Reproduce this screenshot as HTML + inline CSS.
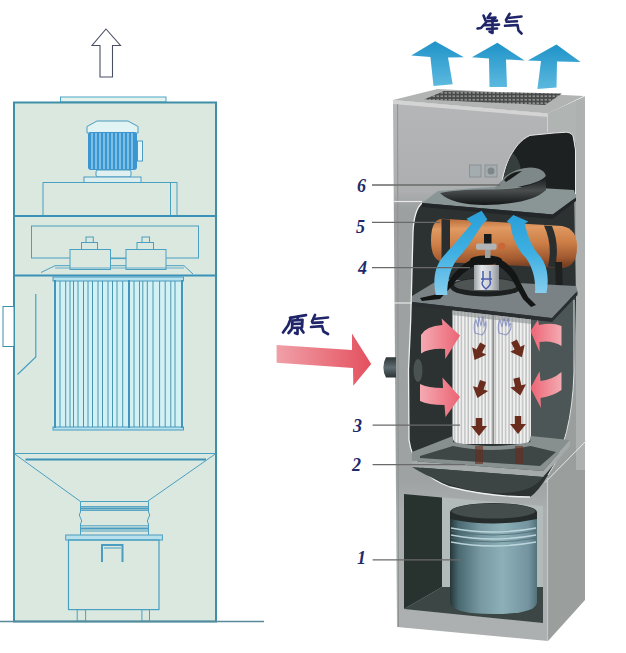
<!DOCTYPE html>
<html><head><meta charset="utf-8">
<style>
html,body{margin:0;padding:0;background:#fff;}
body{width:626px;height:653px;overflow:hidden;}
svg{display:block;}
.lb{font-family:"Liberation Serif",serif;font-style:italic;font-weight:bold;fill:#1f2a6b;}
</style></head><body>
<svg width="626" height="653" viewBox="0 0 626 653">
<defs>
  <linearGradient id="gBlueUp" x1="0" y1="0" x2="0" y2="1">
    <stop offset="0" stop-color="#1f93c8"/><stop offset="1" stop-color="#5cb9df"/>
  </linearGradient>
  <linearGradient id="gRed" x1="0" y1="0" x2="1" y2="0">
    <stop offset="0" stop-color="#f0a0a8"/><stop offset="1" stop-color="#e4505e"/>
  </linearGradient>
  <linearGradient id="gFront" x1="0" y1="0" x2="0" y2="1">
    <stop offset="0" stop-color="#b4b6b7"/><stop offset="0.17" stop-color="#acaeb0"/><stop offset="0.2" stop-color="#9ca0a0"/><stop offset="0.7" stop-color="#9ea2a2"/><stop offset="0.76" stop-color="#aaaeae"/><stop offset="1" stop-color="#acb0b0"/>
  </linearGradient>
</defs>
<rect width="626" height="653" fill="#fff"/>
<!-- ============ LEFT DRAWING ============ -->
<g id="left">
  <!-- up arrow -->
  <path d="M106,29 L120.5,45.5 L112.5,45.5 L112.5,77 L100,77 L100,45.5 L92,45.5 Z" fill="#fff" stroke="#4a4f66" stroke-width="1.1"/>
  <!-- top plate -->
  <rect x="60.5" y="97" width="105.5" height="5" fill="#e6f2ee" stroke="#4aa6c8" stroke-width="1"/>
  <!-- main box -->
  <rect x="14" y="102.5" width="202" height="519" fill="#dae8df" stroke="#3f8fa8" stroke-width="2"/>
  <!-- motor -->
  <path d="M97,121 L128,121 L138,126.5 L138,133 L87,133 L87,126.5 Z" fill="#e2f3f4" stroke="#4a9cc0" stroke-width="1"/>
  <rect x="88" y="132" width="49" height="38" rx="3" fill="#3b95d0"/>
  <g stroke="#a8dcf4" stroke-width="1.2">
    <line x1="92" y1="133" x2="92" y2="169"/><line x1="96" y1="133" x2="96" y2="169"/>
    <line x1="100" y1="133" x2="100" y2="169"/><line x1="104" y1="133" x2="104" y2="169"/>
    <line x1="108" y1="133" x2="108" y2="169"/><line x1="112" y1="133" x2="112" y2="169"/>
    <line x1="116" y1="133" x2="116" y2="169"/><line x1="120" y1="133" x2="120" y2="169"/>
    <line x1="124" y1="133" x2="124" y2="169"/><line x1="128" y1="133" x2="128" y2="169"/>
    <line x1="132" y1="133" x2="132" y2="169"/>
  </g>
  <rect x="137.5" y="141" width="5" height="20" fill="#e6f4f4" stroke="#4a9cc0" stroke-width="1"/>
  <rect x="96" y="170" width="35" height="7" rx="2" fill="#e0f0f0" stroke="#4a9cc0" stroke-width="1"/>
  <rect x="84" y="177" width="57" height="5.5" fill="#dcefee" stroke="#4a9cc0" stroke-width="1"/>
  <!-- fan box -->
  <rect x="43" y="182.5" width="134" height="33" fill="none" stroke="#4aa0c2" stroke-width="1"/>
  <line x1="170.5" y1="182.5" x2="170.5" y2="215" stroke="#4aa0c2" stroke-width="1"/>
  <line x1="14" y1="216" x2="216" y2="216" stroke="#3a92b8" stroke-width="2"/>
  <!-- inner rect -->
  <rect x="31.5" y="226" width="167" height="32" fill="none" stroke="#4aa0c2" stroke-width="1"/>
  <!-- blower boxes -->
  <rect x="70" y="249.5" width="40.5" height="20" fill="#dae8df" stroke="#4aa0c2" stroke-width="1"/>
  <rect x="126" y="249.5" width="40" height="20" fill="#dae8df" stroke="#4aa0c2" stroke-width="1"/>
  <rect x="81.5" y="242.5" width="16" height="7" fill="#dae8df" stroke="#4aa0c2" stroke-width="1"/>
  <rect x="86" y="237" width="7.3" height="5.5" fill="#dae8df" stroke="#4aa0c2" stroke-width="1"/>
  <rect x="137" y="242.5" width="16.5" height="7" fill="#dae8df" stroke="#4aa0c2" stroke-width="1"/>
  <rect x="142" y="237" width="7.5" height="5.5" fill="#dae8df" stroke="#4aa0c2" stroke-width="1"/>
  <line x1="110.5" y1="258.6" x2="126" y2="258.6" stroke="#4aa0c2" stroke-width="1"/>
  <line x1="110.5" y1="265.7" x2="126" y2="265.7" stroke="#4aa0c2" stroke-width="1"/>
  <path d="M41,272.5 L55,265.7 L70,265.7 M166,265.7 L184,265.7 L193,274" fill="none" stroke="#4aa0c2" stroke-width="1"/>
  <line x1="55" y1="268" x2="184" y2="268" stroke="#4aa0c2" stroke-width="0.8"/>
  <line x1="14" y1="275.5" x2="216" y2="275.5" stroke="#3a92b8" stroke-width="2"/>
  <!-- L filter -->
  <rect x="53.5" y="277" width="130" height="152.5" fill="#d2f1f5"/>
  <rect x="53" y="277" width="130.5" height="4" fill="#b6e2ee" stroke="#4a9cc0" stroke-width="1"/>
  <rect x="53" y="427" width="130.5" height="3" fill="#b6e2ee" stroke="#4a9cc0" stroke-width="1"/>
  <g stroke="#4a96b0" stroke-width="1">
    <line x1="60" y1="281" x2="60" y2="427"/><line x1="65.7" y1="281" x2="65.7" y2="427"/>
    <line x1="70" y1="281" x2="70" y2="427"/><line x1="73.5" y1="281" x2="73.5" y2="427"/>
    <line x1="78" y1="281" x2="78" y2="427"/><line x1="83.5" y1="281" x2="83.5" y2="427"/>
    <line x1="88" y1="281" x2="88" y2="427"/><line x1="92.5" y1="281" x2="92.5" y2="427"/>
    <line x1="98" y1="281" x2="98" y2="427"/><line x1="102.5" y1="281" x2="102.5" y2="427"/>
    <line x1="108" y1="281" x2="108" y2="427"/><line x1="112.5" y1="281" x2="112.5" y2="427"/>
    <line x1="117" y1="281" x2="117" y2="427"/><line x1="122.7" y1="281" x2="122.7" y2="427"/>
    <line x1="134" y1="281" x2="134" y2="427"/><line x1="139.5" y1="281" x2="139.5" y2="427"/>
    <line x1="142.8" y1="281" x2="142.8" y2="427"/><line x1="147.3" y1="281" x2="147.3" y2="427"/>
    <line x1="153" y1="281" x2="153" y2="427"/><line x1="159.6" y1="281" x2="159.6" y2="427"/>
    <line x1="165.2" y1="281" x2="165.2" y2="427"/><line x1="170.8" y1="281" x2="170.8" y2="427"/>
    <line x1="175" y1="281" x2="175" y2="427"/>
  </g>
  <g stroke="#4296bc" stroke-width="2">
    <line x1="55" y1="280" x2="55" y2="428"/><line x1="129" y1="280" x2="129" y2="428"/><line x1="182" y1="280" x2="182" y2="428"/>
  </g>
  <!-- side inlet -->
  <rect x="3" y="306.5" width="11" height="40" fill="#fff" stroke="#3f8fa8" stroke-width="1"/>
  <path d="M35.8,294 L35.8,357 L17.5,374.5" fill="none" stroke="#4aa0c2" stroke-width="1.2"/>
  <!-- hopper -->
  <line x1="14" y1="453.5" x2="216" y2="453.5" stroke="#4aa0c2" stroke-width="1.2"/>
  <line x1="25.5" y1="459.5" x2="206" y2="459.5" stroke="#3a92b8" stroke-width="2"/>
  <path d="M14,453.5 L80.5,501.5 M216,453.5 L148,501" fill="none" stroke="#4aa0c2" stroke-width="1"/>
  <!-- flex connector -->
  <rect x="80.5" y="501.5" width="68" height="34" fill="#dae8df" stroke="none"/>
  <g fill="none" stroke="#4aa0c2" stroke-width="1">
    <line x1="80.5" y1="501.5" x2="148.5" y2="501.5"/>
    <line x1="80.5" y1="506.6" x2="148.5" y2="506.6"/>
    <line x1="80.5" y1="510.4" x2="148.5" y2="510.4"/>
    <line x1="80.5" y1="525.8" x2="148.5" y2="525.8"/>
    <line x1="80.5" y1="531" x2="148.5" y2="531"/>
    <path d="M80.5,501.5 L80.5,512 Q78,515 80.5,518 Q83,521 80.5,524 L80.5,535"/>
    <path d="M148.5,501.5 L148.5,512 Q151,515 148.5,518 Q146,521 148.5,524 L148.5,535"/>
  </g>
  <line x1="80.5" y1="508.5" x2="148.5" y2="508.5" stroke="#4a9cc0" stroke-width="2"/>
  <line x1="80.5" y1="528.5" x2="148.5" y2="528.5" stroke="#4a9cc0" stroke-width="2"/>
  <!-- bin -->
  <rect x="65.7" y="535" width="96.7" height="5" fill="#b8e0ea" stroke="#4a9cc0" stroke-width="1"/>
  <rect x="68.5" y="540" width="90.5" height="69.6" fill="none" stroke="#4aa0c2" stroke-width="1.2"/>
  <path d="M102,562 L102,545 L122.5,545 L122.5,562" fill="none" stroke="#4a9cc0" stroke-width="2"/>
  <line x1="104" y1="548" x2="121" y2="548" stroke="#4a9cc0" stroke-width="1"/>
  <rect x="77.2" y="609.6" width="8.4" height="11.6" fill="none" stroke="#4aa0c2" stroke-width="1"/>
  <rect x="141.9" y="609.6" width="7.6" height="11.6" fill="none" stroke="#4aa0c2" stroke-width="1"/>
  <!-- floor -->
  <line x1="0" y1="621.5" x2="264" y2="621.5" stroke="#5a8a98" stroke-width="1.3"/>
</g>
<!-- ============ RIGHT DRAWING ============ -->
<g id="right">
  <!-- clean air arrows -->
  <path d="M435.1,41.2 L463.9,57.2 L448,57.5 L452.7,84.3 L433.5,85.9 L430.4,57 L411.2,55.6 Z" fill="url(#gBlueUp)"/>
  <path d="M497.4,42.8 L524.6,60.4 L506,59.5 L507,86.9 L489.5,86.9 L489,58.5 L471.9,57.2 Z" fill="url(#gBlueUp)"/>
  <path d="M556.5,44.4 L580.5,62 L557,61.5 L556.5,87.5 L537.4,89.1 L541,61 L527.8,60.4 Z" fill="url(#gBlueUp)"/>
  <g fill="none" stroke="#1f2568" stroke-width="2.6" stroke-linecap="round" stroke-linejoin="round">
    <path d="M483.5,15.5 L485.5,20.5"/>
    <path d="M477.5,28.5 L481,28 L486,22.5"/>
    <path d="M490.5,13.5 L487.5,18 L495.5,17.5 L493,20"/>
    <path d="M487,21.2 L497,20.6"/>
    <path d="M484,25.2 L499,24.6"/>
    <path d="M487,29 L497,28.5"/>
    <path d="M492.5,18.5 L492.5,33 L489.5,31.5"/>
    <path d="M509.5,13.8 L506,20"/>
    <path d="M507.5,18 L521.5,16.5"/>
    <path d="M506.5,21.8 L517,21.3"/>
    <path d="M505,25.8 L517.5,25 L518.5,30.5 L521.5,33.5"/>
  </g>

  <!-- body faces -->
  <path d="M393,100 L548,113.5 L548,641 L397,627 Z" fill="url(#gFront)"/>
  <path d="M548,113.5 L585,96.5 L585,600 L548,641 Z" fill="#9a9e9c"/>
  <defs><pattern id="pGr" x="0" y="0" width="4" height="3.5" patternUnits="userSpaceOnUse">
      <rect width="4" height="3.5" fill="#484a4a"/><rect x="0.5" y="1" width="2.5" height="1.5" fill="#9a9c9c"/></pattern></defs>
  <path d="M393,100 L437.5,89 L584,96 L548,113.5 Z" fill="#b2b4b4"/>
  <path d="M424,99.5 L444,91 L562,93.5 L545,105 Z" fill="url(#pGr)"/>
  <path d="M393,100 L548,113.5 L548,117 L393,104 Z" fill="#d4d4d4"/>
  <path d="M548,113.5 L585,96.5 L585,140 L548,150 Z" fill="#b0b4b2"/>
  <rect x="576" y="100" width="9" height="370" fill="#adb1af"/>
  <line x1="397.6" y1="104" x2="398.5" y2="627" stroke="#8e9292" stroke-width="1"/>
  <line x1="545" y1="482.5" x2="586" y2="441" stroke="#e4e8e8" stroke-width="1"/>
  <line x1="547.5" y1="113.5" x2="547.5" y2="132" stroke="#cdd1d1" stroke-width="1"/>
  <line x1="547.5" y1="478" x2="547.5" y2="641" stroke="#c4c8c8" stroke-width="1.2"/>
  <!-- squares -->
  <rect x="469.5" y="165" width="11.5" height="12" fill="#a4acb0" stroke="#8a9296" stroke-width="1"/>
  <rect x="485" y="165" width="12" height="12" fill="#a4acb0" stroke="#8a9296" stroke-width="1"/>
  <circle cx="491" cy="171" r="3.5" fill="#7e868a"/>

  <!-- upper cutout -->
  <path d="M501.2,192 C504,170 508,160 511,155 C515,148 520,140 530,135.4 L554,133 L566.7,132.2 Q573,133 573.5,138 L575.5,150 L575.5,194 L501.2,194 Z" fill="#1e2121"/>
  <path d="M501.2,184 C504,170 508,160 511,155 C515,148 520,140 530,135.4 L554,133 L566.7,132.2 Q573,133 573.5,138 L575.5,150 L575.5,194" fill="none" stroke="#e6e6e6" stroke-width="1"/>
  <path d="M503,182 C505,168 509,159 513,153 Q520,160 521,171 Q510,174 503,182 Z" fill="#363e3e"/>

  <!-- middle compartment interior -->
  <path d="M422,203 L574,190 L576,300 L574,372 Q572,440 548,475 Q538,492 530,497 Q490,497 450,487 C425,478 412,462 409,440 L408.5,370 L410.7,320 L413,232 Q414,210 422,203 Z" fill="#2c3232"/>
  <path d="M530,318 L575,297 L574,372 Q572,420 560,450 L530,450 Z" fill="#4c5656"/>
  <path d="M422,203 Q414,210 413,232 L410.7,320 L408.5,370 L409,440 C412,462 425,478 450,487 Q490,497 530,497" fill="none" stroke="#eef0f0" stroke-width="1.3"/>
  <path d="M574,300 L574,372 Q572,440 548,475" fill="none" stroke="#e0e4e4" stroke-width="1"/>
  <!-- seam -->
  <line x1="394" y1="201.5" x2="422" y2="201.5" stroke="#e8eaea" stroke-width="1.2"/>
  <line x1="394" y1="303" x2="412" y2="303" stroke="#e8eaea" stroke-width="1.2"/>

  <!-- shelf 5 -->
  <path d="M422,203 L438,191 L503,186 L574,190 L576,197.5 L552.7,214.5 Z" fill="#8a9696"/>
  <path d="M422,203 L552.7,214.5 L576,197.5 L576,201 L552.7,219 L422,207 Z" fill="#222628"/>
  <!-- disc top surface -->
  <path d="M494,189 L503,179 Q512,169 530,167.5 Q545,168 546,177 Q530,188 494,189 Z" fill="#7e8888"/>
  <path d="M504,180 Q510,172 522,171 Q515,176 506,182 Z" fill="#1a1c1c"/>
  <!-- disc band -->
  <defs>
    <linearGradient id="gBand" x1="0" y1="0" x2="0" y2="1">
      <stop offset="0" stop-color="#141616"/><stop offset="0.5" stop-color="#4a4e4e"/><stop offset="1" stop-color="#141616"/>
    </linearGradient>
  </defs>
  <path d="M440,193 Q452,205 485,205 Q532,204 546,190 L546,176 Q535,189 494,189.5 Q458,189 440,193 Z" fill="url(#gBand)"/>
  <!-- orange cylinder -->
  <defs>
    <linearGradient id="gOr" x1="0" y1="0" x2="0.08" y2="1">
      <stop offset="0" stop-color="#b86a38"/><stop offset="0.22" stop-color="#e09a62"/><stop offset="0.55" stop-color="#cc7e46"/><stop offset="0.85" stop-color="#a25a30"/><stop offset="1" stop-color="#7a4224"/>
    </linearGradient>
  </defs>
  <path d="M442,218.7 L562,226 Q577,228.5 577,247 Q577,267 562,268 L442,262 Q431,260 431,240 Q431,220 442,218.7 Z" fill="url(#gOr)"/>
  <path d="M441.5,219 L450,219.5 L450,262.5 L441.5,262 Z" fill="#2a2e2e"/>
  <path d="M544,225.5 Q553,245 548,266.5 L555,267.5 Q560,245 552,226 Z" fill="#2a2e2e"/>
  <path d="M555,262 L556,292 L563,292 L562,262 Z" fill="#1e2020"/>

  <!-- shelf 4 -->
  <path d="M412,296 L440,279 L576,286 L577.5,291 L552,318 L412,302 Z" fill="#7a8286"/>
  <path d="M412,302 L552,318 L577.5,291 L577.5,295 L552,322 L412,306 Z" fill="#2a2e30"/>

  <!-- hub / tripod -->
  <ellipse cx="486" cy="287" rx="36" ry="9.5" fill="#1c2020"/>
  <ellipse cx="486" cy="285" rx="32" ry="6.5" fill="#4e5454"/>
  <path d="M472,259 Q456,268 448,282 L438,294 L420,298 L422,301 L440,299 L452,286 Q460,273 478,264 Z" fill="#141616"/>
  <path d="M500,259 Q514,267 519,280 L528,297 L536,305 L531,307 L523,299 L514,283 Q508,271 495,264 Z" fill="#141616"/>
  <ellipse cx="486" cy="260" rx="16" ry="4.5" fill="#141616"/>
  <defs>
    <linearGradient id="gSil" x1="0" y1="0" x2="1" y2="0">
      <stop offset="0" stop-color="#9aa0a4"/><stop offset="0.3" stop-color="#e6e8ea"/><stop offset="0.7" stop-color="#c4c8cc"/><stop offset="1" stop-color="#8a9094"/>
    </linearGradient>
  </defs>
  <rect x="474" y="265" width="25" height="25" fill="url(#gSil)"/>
  <path d="M483,271 L483,281 Q480,284 486,289 Q492,284 490,281 L490,271 M481,279 L492,279" fill="none" stroke="#4a5cb0" stroke-width="1.5"/>
  <rect x="484" y="234" width="7.5" height="10" fill="#1a1c1c"/>
  <rect x="485" y="249" width="5.5" height="9" fill="#9ca0a2"/>
  <rect x="476" y="243.4" width="20.6" height="6.3" rx="2" fill="#b0b4b6"/>
  <circle cx="501.8" cy="246.5" r="3.8" fill="#c8683a"/>

  <!-- blue curved arrows -->
  <defs>
    <linearGradient id="gBA" x1="0" y1="1" x2="0" y2="0">
      <stop offset="0" stop-color="#86cdee"/><stop offset="0.5" stop-color="#3fb0e2"/><stop offset="1" stop-color="#2a9fd8"/>
    </linearGradient>
  </defs>
  <path d="M435.8,295 C433,282 434,268 442,258 C448,251 458,240 471.6,223.7 L466.5,218.7 L481.6,210.8 L487.4,219.4 L483,223.7 C472,240 466,250 458,258 C450,268 447,282 447.3,295 Z" fill="url(#gBA)"/>
  <path d="M546.5,293 C549,280 548,266 540,256 C533,249 528,238 524.8,223.7 L528.3,221.5 L513.3,215 L506.8,221.5 L510.4,223.7 C512,238 518,250 526,258 C533,268 536,280 535,293 Z" fill="url(#gBA)"/>
  <!-- R filter -->
  <defs>
    <pattern id="pFil" x="452" y="0" width="3.4" height="10" patternUnits="userSpaceOnUse">
      <rect width="3.4" height="10" fill="#f0f0f0"/>
      <rect x="2" width="1.3" height="10" fill="#babcbc"/>
    </pattern>
  </defs>
  <path d="M452.5,310.5 L531,319.5 L531,436 Q530,444 524,444 L460,444 Q453,444 452.5,436 Z" fill="url(#pFil)"/>
  <line x1="493.3" y1="315" x2="493.3" y2="444" stroke="#8a8c8c" stroke-width="1.6"/>
  <path d="M452.5,310.5 L531,319.5 L531,324 L452.5,315 Z" fill="#8a9090" opacity="0.6"/>
  <!-- blue hand icons at filter top -->
  <g fill="none" stroke="#6a78b8" stroke-width="1.1" opacity="0.65">
    <path d="M475,333 Q473,325 476,320 L478,327 L479,317 L481,326 L483,316 L484,326 L486,322 Q487,330 482,335 Z"/>
    <path d="M499,333 Q497,325 500,320 L502,327 L504,318 L506,326 L508,318 L509,326 L511,323 Q512,331 506,335 Z"/>
  </g>

  <!-- hopper tray -->
  <path d="M412,452 L453,436 L453,442 Q492,450 530.5,442 L530.5,436 L570,440 L543,471 L412,461 Z" fill="#88908f"/>
  <path d="M420,456 L453,446 Q492,454 530.5,446 L556,452 L540,466 L420,458 Z" fill="#3e4646"/>
  <path d="M412,461 L543,471 L570,440 L570,446 L543,477 L412,467 Z" fill="#a4aaaa"/>
  <path d="M412,467 L543,477 Q530,497 480,492 Q440,485 412,467 Z" fill="#3c4444"/>

  <!-- red arrows -->
  <defs>
    <linearGradient id="gPk" x1="0" y1="0" x2="1" y2="0">
      <stop offset="0" stop-color="#f4aab2"/><stop offset="1" stop-color="#ec6474"/>
    </linearGradient>
    <linearGradient id="gPk2" x1="1" y1="0" x2="0" y2="0">
      <stop offset="0" stop-color="#f4aab2"/><stop offset="1" stop-color="#ec6474"/>
    </linearGradient>
  </defs>
  <path d="M421,335 Q426,326 442.5,325 L441.6,318.6 L460,335.5 L445.3,359 L445,349 Q430,348 421,353.5 Z" fill="url(#gPk)"/>
  <path d="M420,384 Q428,388 443,388 L442.5,377.4 L460,397 L445.5,417 L444.5,405 Q428,405 420,401 Z" fill="url(#gPk)"/>
  <path d="M561.5,326 Q552,322 539,325 L538,319.7 L530.5,331 L539.6,352 L539.5,342 Q552,340 561.5,346 Z" fill="url(#gPk2)"/>
  <path d="M561.5,372 Q552,380 540.5,381 L539.6,371.3 L530.5,388 L541,408 L540.5,398 Q553,396 561.5,390 Z" fill="url(#gPk2)"/>

  <!-- brown arrows -->
  <g fill="#6a2c1c">
    <path d="M-3.2,0 L3.2,0 L3.2,8 L8,8 L0,18 L-8,8 L-3.2,8 Z" transform="translate(483,344) rotate(28)"/>
    <path d="M-3.2,0 L3.2,0 L3.2,8 L8,8 L0,18 L-8,8 L-3.2,8 Z" transform="translate(483,381) rotate(18)"/>
    <path d="M-3.2,0 L3.2,0 L3.2,8 L8,8 L0,18 L-8,8 L-3.2,8 Z" transform="translate(479,418)"/>
    <path d="M-3.2,0 L3.2,0 L3.2,8 L8,8 L0,18 L-8,8 L-3.2,8 Z" transform="translate(514,341) rotate(-26)"/>
    <path d="M-3.2,0 L3.2,0 L3.2,8 L8,8 L0,18 L-8,8 L-3.2,8 Z" transform="translate(516.5,378) rotate(-12)"/>
    <path d="M-3.2,0 L3.2,0 L3.2,8 L8,8 L0,18 L-8,8 L-3.2,8 Z" transform="translate(518,416)"/>
  </g>
  <g fill="#6a2c1c" opacity="0.6">
    <rect x="475" y="446" width="8" height="18"/>
    <rect x="515" y="446" width="8" height="18"/>
  </g>
  <!-- inlet pipe -->
  <defs><linearGradient id="gPipe" x1="0" y1="0" x2="0" y2="1">
    <stop offset="0" stop-color="#2e3638"/><stop offset="0.5" stop-color="#5e6c72"/><stop offset="1" stop-color="#2a3234"/></linearGradient></defs>
  <path d="M396,357.3 L386,357.3 Q383.4,362 383.4,367.4 Q383.4,373 386,377.4 L396,377.4 Z" fill="url(#gPipe)"/>
  <ellipse cx="418" cy="370.5" rx="4.5" ry="11.5" fill="#4a5252"/>

  <!-- lower compartment -->
  <path d="M404,494 L543,506 L543,623 L404,609 Z" fill="#b2baba"/>
  <path d="M404,494 L442,497.5 L442,587 L404,609 Z" fill="#28322f"/>
  <path d="M404,609 L442,587 L543,587 L543,623 Z" fill="#3c4644"/>
  <!-- bin -->
  <defs>
    <linearGradient id="gBin" x1="0" y1="0" x2="1" y2="0">
      <stop offset="0" stop-color="#263638"/><stop offset="0.1" stop-color="#4a6a72"/><stop offset="0.35" stop-color="#7898a2"/><stop offset="0.6" stop-color="#8cb0b8"/><stop offset="0.9" stop-color="#7494a0"/><stop offset="1" stop-color="#52727a"/>
    </linearGradient>
  </defs>
  <path d="M450,516 L537,516 L537,602 Q537,614 493.5,614 Q450,614 450,602 Z" fill="url(#gBin)"/>
  <path d="M450,512 A43.5,9 0 0 1 537,512 L537,519 Q493.5,528 450,519 Z" fill="#262c2c"/>
  <ellipse cx="493.5" cy="511" rx="42" ry="7.5" fill="#444c4c"/>
  <g stroke="#c4dce2" stroke-width="1.3" fill="none" opacity="0.9">
    <path d="M451,528 Q493,536 536,528"/><path d="M451,535 Q493,543 536,535"/><path d="M451,542 Q493,550 536,542"/>
  </g>
  <g stroke="#4e6a70" stroke-width="1" fill="none" opacity="0.8">
    <path d="M451,531 Q493,539 536,531"/><path d="M451,538 Q493,546 536,538"/>
  </g>
  <!-- leaders -->
  <g stroke="#6a6a6a" stroke-width="1.3">
    <line x1="372" y1="185" x2="500" y2="185"/>
    <line x1="372" y1="222.4" x2="440" y2="222.4"/>
    <line x1="372" y1="267.6" x2="470" y2="267.6"/>
    <line x1="372.6" y1="425.1" x2="460" y2="425.1"/>
    <line x1="372.6" y1="464.7" x2="465" y2="464.7"/>
    <line x1="372.6" y1="559.8" x2="462" y2="559.8"/>
  </g>
  <text x="357" y="191.5" class="lb" font-size="18">6</text>
  <text x="356" y="233" class="lb" font-size="18">5</text>
  <text x="358" y="273.5" class="lb" font-size="18">4</text>
  <text x="353" y="432" class="lb" font-size="18">3</text>
  <text x="352" y="471" class="lb" font-size="18">2</text>
  <text x="357" y="564" class="lb" font-size="18">1</text>

  <!-- raw air -->
  <path d="M276.6,345 L352,350 L352,333.5 L371.2,364 L353.3,385.8 L353,368 L276.6,362.8 Z" fill="url(#gRed)"/>
  <g fill="none" stroke="#1f2568" stroke-width="2.7" stroke-linecap="round" stroke-linejoin="round">
    <path d="M290,317.8 L306,315.2"/>
    <path d="M291,318 L288,325.5 L283,332.5"/>
    <path d="M298,316.8 L297.5,319"/>
    <path d="M292.5,320.5 L302.5,319.8 L302,327.5 L292,328 Z"/>
    <path d="M293,324 L301.5,323.6"/>
    <path d="M297.5,328 L297.5,334 L295,333"/>
    <path d="M291.5,329.5 L288.5,333"/>
    <path d="M301,329 L303.5,332.5"/>
    <path d="M315,315 L312,321.5"/>
    <path d="M313.5,319 L328,317.5"/>
    <path d="M312.5,322.8 L322.5,322.3"/>
    <path d="M311,327 L322,326.2 L323.5,331.5 L328,334"/>
  </g>
</g>
</svg>
</body></html>
